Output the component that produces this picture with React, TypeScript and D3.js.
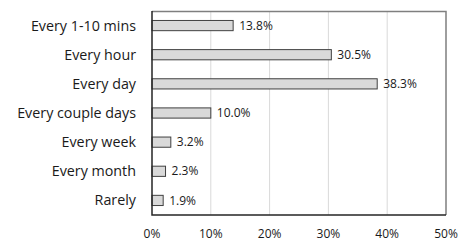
import React, { useEffect, useRef } from 'react';
import * as d3 from 'd3';

const categories = ['Every 1-10 mins', 'Every hour', 'Every day', 'Every couple days', 'Every week', 'Every month', 'Rarely'];
const values = [13.8, 30.5, 38.3, 10.0, 3.2, 2.3, 1.9];
const ticks = [0, 10, 20, 30, 40, 50];

const W = 474;
const H = 244;

const App: React.FC = () => {
  const svgRef = useRef<SVGSVGElement>(null);

  useEffect(() => {
    if (!svgRef.current) return;
    const svg = d3.select(svgRef.current);
    svg.selectAll('*').remove();

    const margin = { top: 11, right: 28, bottom: 29, left: 152 };
    const innerWidth = W - margin.left - margin.right;
    const innerHeight = H - margin.top - margin.bottom;
    const font = '"Open Sans", sans-serif';

    const x = d3.scaleLinear().domain([0, 50]).range([0, innerWidth]);
    const y = d3.scaleBand<string>().domain(categories).range([0, innerHeight]).paddingInner(0.65).paddingOuter(0.325);

    const g = svg.append('g').attr('transform', `translate(${margin.left},${margin.top})`);

    // Grid lines
    g.selectAll('.grid')
      .data(ticks.slice(1, -1))
      .enter()
      .append('line')
      .attr('x1', d => x(d))
      .attr('x2', d => x(d))
      .attr('y1', 0)
      .attr('y2', innerHeight)
      .attr('stroke', '#d9d9d9')
      .attr('stroke-width', 1);

    // Frame (top/right)
    g.append('path')
      .attr('d', `M0,0.5H${innerWidth}V${innerHeight}`)
      .attr('fill', 'none')
      .attr('stroke', '#7f7f7f')
      .attr('stroke-width', 1.5);

    // Bars
    g.selectAll('.bar')
      .data(values)
      .enter()
      .append('rect')
      .attr('x', 0)
      .attr('y', (_, i) => y(categories[i])!)
      .attr('width', d => x(d))
      .attr('height', y.bandwidth())
      .attr('fill', '#d9d9d9')
      .attr('stroke', '#404040')
      .attr('stroke-width', 1);

    // Value labels
    g.selectAll('.val')
      .data(values)
      .enter()
      .append('text')
      .attr('x', d => x(d) + 6)
      .attr('y', (_, i) => y(categories[i])! + y.bandwidth() / 2)
      .attr('dy', '0.35em')
      .attr('font-family', font)
      .attr('font-size', 12)
      .attr('fill', '#1a1a1a')
      .text(d => `${d.toFixed(1)}%`);

    // Category labels
    g.selectAll('.cat')
      .data(categories)
      .enter()
      .append('text')
      .attr('x', -16)
      .attr('y', d => y(d)! + y.bandwidth() / 2)
      .attr('dy', '0.35em')
      .attr('text-anchor', 'end')
      .attr('font-family', font)
      .attr('font-size', 14.3)
      .attr('fill', '#1a1a1a')
      .text(d => d);

    // Axes lines
    g.append('path')
      .attr('d', `M0,0V${innerHeight}H${innerWidth}`)
      .attr('fill', 'none')
      .attr('stroke', '#262626')
      .attr('stroke-width', 1.5);

    // Tick labels
    g.selectAll('.tick')
      .data(ticks)
      .enter()
      .append('text')
      .attr('x', d => x(d))
      .attr('y', innerHeight + 19)
      .attr('dy', '0.35em')
      .attr('text-anchor', 'middle')
      .attr('font-family', font)
      .attr('font-size', 12)
      .attr('fill', '#1a1a1a')
      .text(d => `${d}%`);
  }, []);

  return <svg ref={svgRef} width={W} height={H} style={{ position: 'absolute', left: 0, top: 0 }} />;
};

export default App;
